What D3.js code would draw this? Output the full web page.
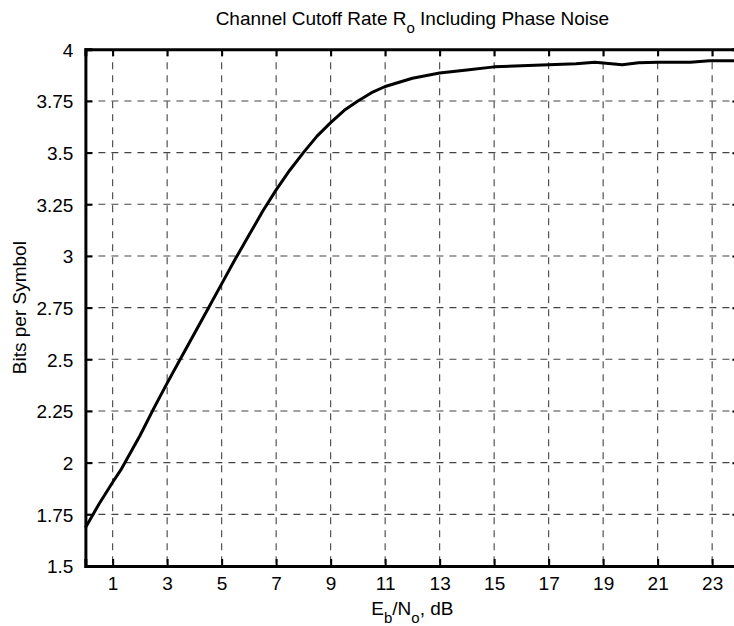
<!DOCTYPE html>
<html>
<head>
<meta charset="utf-8">
<script src="https://d3js.org/d3.v7.min.js"></script>
<style>
  body { margin: 0; background: #fff; overflow: hidden; }
  text { font-family: "Liberation Sans", Arial, Helvetica, sans-serif; fill: #000; }
</style>
</head>
<body>
<div id="chart"></div>
<script>
var ebno = [0, 0.5, 1, 1.3, 2, 2.5, 3, 3.5, 4, 4.5, 5, 5.5, 6, 6.5, 7, 7.5, 8, 8.5, 9, 9.5,
            10, 10.5, 11, 12, 13, 14, 15, 16, 17, 18, 18.7, 19.7, 20.3, 21, 22.2, 22.9, 24];
var bits = [1.685, 1.80, 1.905, 1.965, 2.13, 2.26, 2.385, 2.505, 2.625, 2.745, 2.865, 2.985, 3.1, 3.215, 3.32, 3.415, 3.5, 3.58, 3.645, 3.705,
            3.75, 3.79, 3.82, 3.86, 3.885, 3.9, 3.915, 3.92, 3.925, 3.93, 3.937, 3.925, 3.935, 3.937, 3.937, 3.945, 3.945];
var xTicks = [1, 3, 5, 7, 9, 11, 13, 15, 17, 19, 21, 23];
var yTicks = [1.5, 1.75, 2, 2.25, 2.5, 2.75, 3, 3.25, 3.5, 3.75, 4];
var yTickLabels = ["1.5", "1.75", "2", "2.25", "2.5", "2.75", "3", "3.25", "3.5", "3.75", "4"];

function init() {
    var w = 734;
    var h = 626;
    var left = 85.4, right = 739.4, top = 49.3, bottom = 566;

    var x = d3.scaleLinear().domain([0, 24]).range([left, right]);
    var y = d3.scaleLinear().domain([1.5, 4]).range([bottom, top]);

    var svg = d3.select("#chart")
        .append("svg")
        .attr("width", w)
        .attr("height", h);

    // grid
    svg.selectAll("line.vgrid")
      .data(xTicks)
      .enter()
      .append("line")
      .attr("class", "vgrid")
      .attr("x1", function(d) { return x(d); })
      .attr("x2", function(d) { return x(d); })
      .attr("y1", top)
      .attr("y2", bottom)
      .attr("stroke", "#444")
      .attr("stroke-width", 1.1)
      .attr("stroke-dasharray", "7,6");

    svg.selectAll("line.hgrid")
      .data(yTicks.slice(1, -1))
      .enter()
      .append("line")
      .attr("class", "hgrid")
      .attr("x1", left)
      .attr("x2", right)
      .attr("y1", function(d) { return y(d); })
      .attr("y2", function(d) { return y(d); })
      .attr("stroke", "#444")
      .attr("stroke-width", 1.1)
      .attr("stroke-dasharray", "7,6");

    // axes with inward ticks
    var xb = d3.axisBottom(x).tickValues(xTicks).tickSize(-7).tickPadding(14)
        .tickFormat(d3.format("d"));
    var xt = d3.axisTop(x).tickValues(xTicks).tickSize(-7).tickFormat("");
    var yl = d3.axisLeft(y).tickValues(yTicks).tickSize(-7).tickPadding(12)
        .tickFormat(function(d, i) { return yTickLabels[i]; });
    var yr = d3.axisRight(y).tickValues(yTicks).tickSize(-7).tickFormat("");

    var gxb = svg.append("g").attr("transform", "translate(0," + bottom + ")").call(xb);
    var gxt = svg.append("g").attr("transform", "translate(0," + top + ")").call(xt);
    var gyl = svg.append("g").attr("transform", "translate(" + left + ",0)").call(yl);
    var gyr = svg.append("g").attr("transform", "translate(" + right + ",0)").call(yr);

    [gxb, gxt, gyl, gyr].forEach(function(g) {
        g.select(".domain").attr("stroke", "#000").attr("stroke-width", 3);
        g.selectAll(".tick line").attr("stroke", "#000").attr("stroke-width", 2);
        g.selectAll(".tick text")
          .style("font-family", "'Liberation Sans', Arial, sans-serif")
          .style("font-size", "19px")
          .attr("fill", "#000");
    });
    gxb.selectAll(".tick text").attr("dy", "0.71em").attr("y", 11);
    gyl.selectAll(".tick text").attr("dy", "0.36em");

    // curve
    var pts = ebno.map(function(d, i) { return [d, bits[i]]; });
    var line = d3.line()
        .x(function(d) { return x(d[0]); })
        .y(function(d) { return y(d[1]); });

    svg.append("path")
      .datum(pts)
      .attr("d", line)
      .attr("fill", "none")
      .attr("stroke", "#000")
      .attr("stroke-width", 3)
      .attr("stroke-linejoin", "round");

    // title
    var title = svg.append("text")
      .attr("x", (left + right) / 2)
      .attr("y", 25)
      .attr("text-anchor", "middle")
      .style("font-size", "19px");
    title.append("tspan").text("Channel Cutoff Rate R");
    title.append("tspan").attr("dy", 8).style("font-size", "15px").text("o");
    title.append("tspan").attr("dy", -8).text(" Including Phase Noise");

    // x label
    var xl = svg.append("text")
      .attr("x", (left + right) / 2)
      .attr("y", 615)
      .attr("text-anchor", "middle")
      .style("font-size", "19px");
    xl.append("tspan").text("E");
    xl.append("tspan").attr("dy", 8).style("font-size", "15px").text("b");
    xl.append("tspan").attr("dy", -8).text("/N");
    xl.append("tspan").attr("dy", 8).style("font-size", "15px").text("o");
    xl.append("tspan").attr("dy", -8).text(", dB");

    // y label
    svg.append("text")
      .attr("transform", "translate(26," + ((top + bottom) / 2) + ") rotate(-90)")
      .attr("text-anchor", "middle")
      .style("font-size", "19px")
      .text("Bits per Symbol");
}

window.onload = init;
</script>
</body>
</html>
